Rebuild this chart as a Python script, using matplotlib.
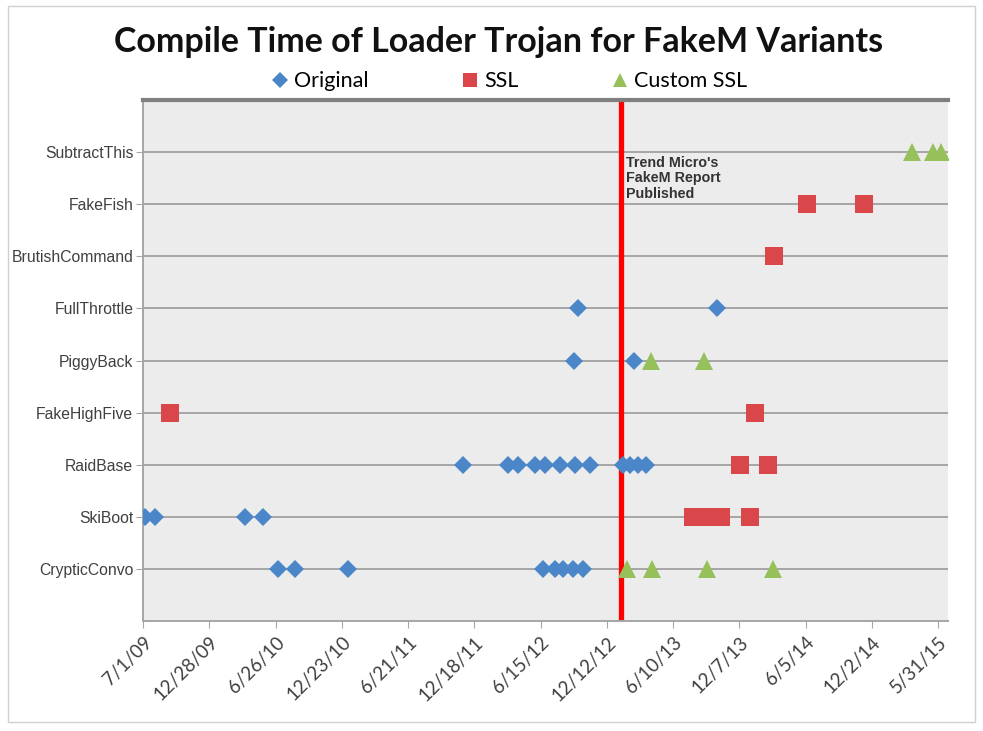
import matplotlib.pyplot as plt
import matplotlib.dates as mdates
import matplotlib.patches as patches
from matplotlib.lines import Line2D
import numpy as np
import datetime as dt

variants = ['CrypticConvo', 'SkiBoot', 'RaidBase', 'FakeHighFive', 'PiggyBack',
            'FullThrottle', 'BrutishCommand', 'FakeFish', 'SubtractThis']

# compile dates, per series: (variant, date)
original = [
    ('CrypticConvo', '2010-07-03'), ('CrypticConvo', '2010-08-18'), ('CrypticConvo', '2011-01-09'),
    ('CrypticConvo', '2012-06-22'), ('CrypticConvo', '2012-07-24'), ('CrypticConvo', '2012-08-15'),
    ('CrypticConvo', '2012-09-11'), ('CrypticConvo', '2012-10-08'),
    ('SkiBoot', '2009-07-06'), ('SkiBoot', '2009-08-03'), ('SkiBoot', '2010-04-04'), ('SkiBoot', '2010-05-23'),
    ('RaidBase', '2011-11-17'), ('RaidBase', '2012-03-19'), ('RaidBase', '2012-04-15'),
    ('RaidBase', '2012-05-31'), ('RaidBase', '2012-06-27'), ('RaidBase', '2012-08-07'),
    ('RaidBase', '2012-09-17'), ('RaidBase', '2012-10-27'), ('RaidBase', '2013-01-25'),
    ('RaidBase', '2013-02-13'), ('RaidBase', '2013-03-07'), ('RaidBase', '2013-03-29'),
    ('PiggyBack', '2012-09-14'), ('PiggyBack', '2013-02-24'),
    ('FullThrottle', '2012-09-25'), ('FullThrottle', '2013-10-08'),
]
ssl = [
    ('SkiBoot', '2013-08-03'), ('SkiBoot', '2013-08-31'), ('SkiBoot', '2013-09-24'),
    ('SkiBoot', '2013-10-18'), ('SkiBoot', '2014-01-05'),
    ('RaidBase', '2013-12-09'), ('RaidBase', '2014-02-23'),
    ('FakeHighFive', '2009-09-12'), ('FakeHighFive', '2014-01-19'),
    ('BrutishCommand', '2014-03-11'),
    ('FakeFish', '2014-06-09'), ('FakeFish', '2014-11-11'),
]
custom_ssl = [
    ('CrypticConvo', '2013-02-05'), ('CrypticConvo', '2013-04-14'),
    ('CrypticConvo', '2013-09-10'), ('CrypticConvo', '2014-03-09'),
    ('PiggyBack', '2013-04-11'), ('PiggyBack', '2013-09-02'),
    ('SubtractThis', '2015-03-21'), ('SubtractThis', '2015-05-17'), ('SubtractThis', '2015-06-08'),
]
report_date = '2013-01-20'
tick_start = '2009-07-01'
tick_step_days = 180
n_ticks = 13


def to_xy(pairs):
    x = [dt.datetime.strptime(d, '%Y-%m-%d') for _, d in pairs]
    y = [variants.index(v) + 1 for v, _ in pairs]
    return x, y


def main():
    fig = plt.figure(figsize=(9.83, 7.31), dpi=100)
    ax = fig.add_axes([143 / 983, 1 - 621 / 731, 805 / 983, 521 / 731])
    ax.set_facecolor('#ececec')

    blue, red, green = '#4a86c8', '#d9474a', '#96c05a'

    for y in range(1, 10):
        ax.axhline(y, color='#a6a6a6', lw=1.4, zorder=1)

    ax.axvline(mdates.datestr2num(report_date), color='#ff0000', lw=3.8, zorder=2)

    x, y = to_xy(original)
    ax.plot(x, y, 'D', color=blue, ms=9.2, mew=0, zorder=3)
    x, y = to_xy(ssl)
    ax.plot(x, y, 's', color=red, ms=13.5, mew=0, zorder=3)
    x, y = to_xy(custom_ssl)
    ax.plot(x, y, '^', color=green, ms=13, mew=0, zorder=3)

    start = dt.datetime.strptime(tick_start, '%Y-%m-%d')
    ticks = [start + dt.timedelta(days=tick_step_days * i) for i in range(n_ticks)]
    ax.set_xticks(ticks)
    ax.set_xticklabels([f'{t.month}/{t.day}/{t.strftime("%y")}' for t in ticks],
                       rotation=45, ha='right', rotation_mode='anchor',
                       fontsize=13.5, family='Lato', color='#404040')
    ax.set_xlim(start, ticks[-1] + dt.timedelta(days=27))
    ax.set_ylim(0, 10)
    ax.set_yticks(range(1, 10))
    ax.set_yticklabels(variants, fontsize=11.3, family='Liberation Sans', color='#404040')
    ax.tick_params(axis='y', length=5, color='#a6a6a6', pad=2)
    ax.tick_params(axis='x', length=5, color='#a6a6a6', direction='out', pad=4)

    for s in ['left', 'bottom']:
        ax.spines[s].set_color('#a6a6a6')
        ax.spines[s].set_linewidth(1.4)
    ax.spines['right'].set_visible(False)
    ax.spines['top'].set_color('#7f7f7f')
    ax.spines['top'].set_linewidth(3)

    ax.text(mdates.datestr2num(report_date) + 14, 8.93, "Trend Micro's\nFakeM Report\nPublished",
            fontsize=10.3, fontweight='bold', family='Liberation Sans', color='#333333',
            va='top', ha='left', linespacing=1.15, zorder=4)

    fig.text(0.507, 0.942, 'Compile Time of Loader Trojan for FakeM Variants',
             ha='center', va='center', fontsize=24.5, fontweight='bold', family='Lato', color='#111111')

    handles = [Line2D([], [], ls='', marker='D', color=blue, ms=8, mew=0),
               Line2D([], [], ls='', marker='s', color=red, ms=10, mew=0),
               Line2D([], [], ls='', marker='^', color=green, ms=10, mew=0)]
    fig.legend(handles, ['Original', 'SSL', 'Custom SSL'], loc='center', ncol=3,
               bbox_to_anchor=(0.517, 0.889), frameon=False, handletextpad=0.15,
               columnspacing=4.2, handlelength=1, prop={'family': 'Lato', 'size': 15.5})

    fig.patches.append(patches.Rectangle((8 / 983, 1 - 722 / 731), 967 / 983, 716 / 731,
                                         transform=fig.transFigure, fill=False,
                                         edgecolor='#d0d0d0', lw=1))

    fig.savefig('out.png', dpi=100)


if __name__ == '__main__':
    main()
